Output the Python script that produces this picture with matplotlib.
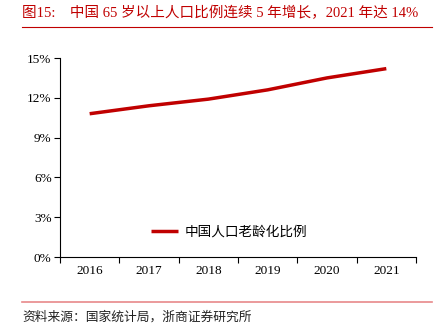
import matplotlib
import matplotlib.pyplot as plt
from matplotlib.ticker import FuncFormatter

plt.switch_backend('agg')

plt.rcParams['font.family'] = ['Liberation Serif', 'Noto Sans CJK SC']

years = ['2016', '2017', '2018', '2019', '2020', '2021']
ratio = [10.8, 11.4, 11.9, 12.6, 13.5, 14.2]
series_name = '中国人口老龄化比例'
title = '图15:    中国 65 岁以上人口比例连续 5 年增长，2021 年达 14%'
source = '资料来源：国家统计局，浙商证券研究所'

red = '#C00000'

fig = plt.figure(figsize=(4.44, 3.30), dpi=100)
ax = fig.add_axes([0.1351, 0.2212, 0.8018, 0.603])

x = range(len(years))
ax.plot(x, ratio, color=red, lw=2.5, label=series_name, solid_capstyle='butt')

ax.set_xlim(-0.5, len(years) - 0.5)
ax.set_ylim(0, 15)
ax.set_yticks([0, 3, 6, 9, 12, 15])
ax.yaxis.set_major_formatter(FuncFormatter(lambda v, p: '%d%%' % v))
ax.set_xticks([i + 0.5 for i in range(-1, len(years))])
ax.set_xticklabels([])
ax.set_xticks(list(x), minor=True)
ax.set_xticklabels(years, minor=True)
ax.tick_params(axis='x', which='minor', length=0, pad=6, labelsize=9.5)
ax.tick_params(axis='x', which='major', length=4, direction='out')
ax.tick_params(axis='y', length=4, direction='out', labelsize=9.5, pad=2)
ax.spines['top'].set_visible(False)
ax.spines['right'].set_visible(False)
for s in ('left', 'bottom'):
    ax.spines[s].set_linewidth(0.8)

ax.legend(loc='lower left', bbox_to_anchor=(0.22, 0.03), frameon=False,
          handlelength=2.0, handletextpad=0.5,
          prop={'family': 'Noto Sans CJK SC', 'size': 9.8})

fig.text(0.05, 0.96, title, color=red, fontsize=10.5, va='center', ha='left')
fig.add_artist(plt.Line2D([0.05, 0.973], [0.918, 0.918], color=red, lw=0.8,
                          transform=fig.transFigure))
fig.add_artist(plt.Line2D([0.05, 0.973], [0.085, 0.085], color='#E8898A', lw=1.2,
                          transform=fig.transFigure))
fig.text(0.05, 0.04, source, color='#222222', fontsize=9.2,
         family='Noto Sans CJK SC', va='center', ha='left')

fig.savefig('out.png', dpi=100)
